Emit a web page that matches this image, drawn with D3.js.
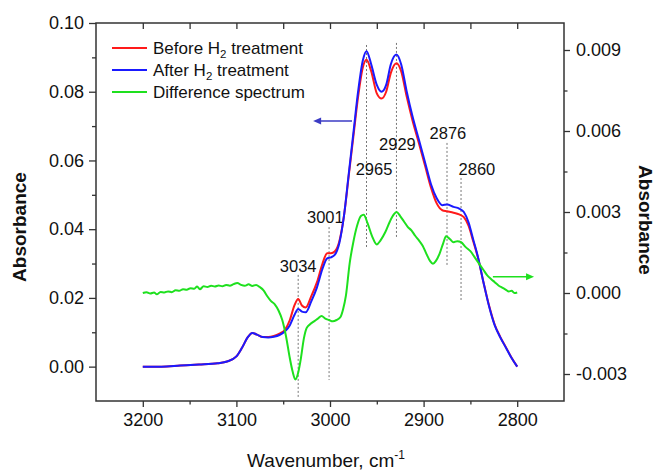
<!DOCTYPE html>
<html>
<head>
<meta charset="utf-8">
<script src="https://d3js.org/d3.v7.min.js"></script>
<style>
  body { margin: 0; background: #fff; }
  text { font-family: Arial, "Liberation Sans", sans-serif; fill: #111; }
</style>
</head>
<body>
<div id="chart"></div>
<script>
// Wavenumber grid for the two absorbance spectra (cm-1)
const wn = [3200, 3180, 3160, 3140, 3120, 3110, 3100, 3094, 3088, 3083, 3078, 3072, 3066, 3060, 3054, 3048,
  3043, 3038, 3034, 3030, 3026, 3020, 3014, 3008, 3003, 2999, 2995, 2990, 2985, 2980, 2975, 2970, 2965,
  2961, 2956, 2950, 2945, 2940, 2935, 2929, 2924, 2918, 2912, 2905, 2898, 2892, 2886, 2880, 2875, 2868,
  2862, 2857, 2852, 2847, 2842, 2836, 2830, 2824, 2818, 2812, 2806, 2800];

const before = [0.0000, 0.0000, 0.0003, 0.0006, 0.0010, 0.0015, 0.0030, 0.0055, 0.0085, 0.0098, 0.0093,
  0.0086, 0.0086, 0.0089, 0.0096, 0.0108, 0.0135, 0.0178, 0.0197, 0.0178, 0.0172, 0.0205, 0.0245, 0.0300,
  0.0330, 0.0330, 0.0335, 0.0365, 0.0440, 0.0555, 0.0670, 0.0785, 0.0870, 0.0893, 0.0860, 0.0795, 0.0780,
  0.0800, 0.0855, 0.0883, 0.0860, 0.0785, 0.0718, 0.0650, 0.0580, 0.0520, 0.0475, 0.0455, 0.0452, 0.0448,
  0.0443, 0.0435, 0.0410, 0.0365, 0.0318, 0.0245, 0.0177, 0.0122, 0.0086, 0.0056, 0.0026, 0.0000];

const after = [0.0000, 0.0000, 0.0003, 0.0006, 0.0010, 0.0015, 0.0030, 0.0055, 0.0085, 0.0098, 0.0093,
  0.0086, 0.0085, 0.0087, 0.0092, 0.0103, 0.0120, 0.0150, 0.0168, 0.0160, 0.0158, 0.0190, 0.0230, 0.0285,
  0.0315, 0.0318, 0.0325, 0.0360, 0.0440, 0.0560, 0.0680, 0.0800, 0.0890, 0.0918, 0.0880, 0.0820, 0.0800,
  0.0820, 0.0880, 0.0908, 0.0880, 0.0800, 0.0730, 0.0660, 0.0590, 0.0530, 0.0490, 0.0470, 0.0472, 0.0465,
  0.0460, 0.0450, 0.0420, 0.0370, 0.0320, 0.0245, 0.0175, 0.0120, 0.0085, 0.0055, 0.0025, 0.0000];

// Difference spectrum (right axis)
const wnDiff = [3200, 3196, 3192, 3188, 3185, 3181, 3177, 3173, 3169, 3165, 3161, 3157, 3153, 3149, 3145,
  3142, 3139, 3135, 3131, 3127, 3123, 3119, 3115, 3111, 3107, 3103, 3099, 3095, 3091, 3087, 3083, 3079,
  3075, 3071, 3067, 3063, 3059, 3055, 3051, 3047, 3043, 3040, 3037, 3034, 3031, 3028, 3025, 3021, 3017,
  3013, 3009, 3005, 3001, 2997, 2993, 2989, 2986, 2983, 2979, 2975, 2971, 2967, 2964, 2960, 2955, 2950,
  2946, 2941, 2936, 2932, 2929, 2925, 2921, 2917, 2913, 2909, 2905, 2901, 2897, 2893, 2890, 2887, 2883,
  2879, 2876, 2872, 2868, 2864, 2860, 2855, 2850, 2845, 2840, 2836, 2832, 2828, 2824, 2820, 2816, 2812,
  2809, 2806, 2803, 2800];

const diff = [0.00000, 0.00003, -0.00002, 0.00002, -0.00005, 0.00004, 0.00002, 0.00006, 0.00003, 0.00010,
  0.00008, 0.00014, 0.00012, 0.00018, 0.00016, 0.00024, 0.00014, 0.00025, 0.00022, 0.00027, 0.00024,
  0.00028, 0.00025, 0.00030, 0.00027, 0.00033, 0.00037, 0.00030, 0.00027, 0.00032, 0.00026, 0.00030,
  0.00022, 0.00010, -0.00012, -0.00030, -0.00042, -0.00065, -0.00100, -0.00160, -0.00240, -0.00290,
  -0.00320, -0.00295, -0.00240, -0.00170, -0.00130, -0.00115, -0.00105, -0.00095, -0.00085, -0.00095,
  -0.00100, -0.00105, -0.00100, -0.00090, -0.00060, -0.00010, 0.00110, 0.00190, 0.00250, 0.00285,
  0.00290, 0.00260, 0.00210, 0.00180, 0.00195, 0.00225, 0.00265, 0.00290, 0.00300, 0.00285, 0.00265,
  0.00245, 0.00232, 0.00212, 0.00195, 0.00175, 0.00145, 0.00118, 0.00108, 0.00118, 0.00145, 0.00185,
  0.00210, 0.00200, 0.00188, 0.00192, 0.00188, 0.00170, 0.00155, 0.00130, 0.00105, 0.00085, 0.00065,
  0.00052, 0.00040, 0.00028, 0.00020, 0.00012, 0.00006, 0.00008, 0.00000, 0.00002];

const xTicks = [3200, 3100, 3000, 2900, 2800];
const leftTicks = [0.00, 0.02, 0.04, 0.06, 0.08, 0.10];
const rightTicks = [-0.003, 0.000, 0.003, 0.006, 0.009];

const seriesNames = ["Before H2 treatment", "After H2 treatment", "Difference spectrum"];
const seriesColors = ["#ff1a1a", "#1a1aff", "#1ee01e"];

// Peak markers: label text and wavenumber of the dotted line
const peakLabels = ["3034", "3001", "2965", "2929", "2876", "2860"];
const peakPos = [3034, 3001, 2961, 2929, 2875, 2860];

const margin = { top: 23, right: 93, bottom: 71, left: 96 },
      W = 657, H = 472,
      width = W - margin.left - margin.right,
      height = H - margin.top - margin.bottom;

const svg = d3.select("#chart").append("svg")
    .attr("width", W).attr("height", H);
const g = svg.append("g").attr("transform", `translate(${margin.left},${margin.top})`);

const x = d3.scaleLinear().domain([3250, 2750]).range([0, width]);
const yL = d3.scaleLinear().domain([-0.01, 0.10]).range([height, 0]);
const yR = d3.scaleLinear().domain([-0.004, 0.010]).range([height, 0]);

// axes
function styleAxis(sel) {
  sel.select(".domain").remove();
  sel.selectAll(".tick line").attr("stroke", "#333").attr("stroke-width", 1.3);
  sel.selectAll(".tick text").style("font-size", "18px").attr("fill", "#111");
}

g.append("g").attr("transform", `translate(0,${height})`)
  .call(d3.axisBottom(x).tickValues(xTicks).tickFormat(d3.format("d")).tickSize(6).tickPadding(6))
  .call(styleAxis);
g.append("g").attr("transform", `translate(0,${height})`)
  .call(d3.axisBottom(x).tickValues([3150, 3050, 2950, 2850]).tickFormat("").tickSize(3.5))
  .call(styleAxis);
g.append("g")
  .call(d3.axisTop(x).tickValues([3200, 3150, 3100, 3050, 3000, 2950, 2900, 2850, 2800]).tickFormat("").tickSize(-6))
  .call(styleAxis);

g.append("g")
  .call(d3.axisLeft(yL).tickValues(leftTicks).tickFormat(d3.format(".2f")).tickSize(7).tickPadding(5))
  .call(styleAxis);
g.append("g")
  .call(d3.axisLeft(yL).tickValues([0.01, 0.03, 0.05, 0.07, 0.09]).tickFormat("").tickSize(4))
  .call(styleAxis);

g.append("g").attr("transform", `translate(${width},0)`)
  .call(d3.axisRight(yR).tickValues(rightTicks).tickFormat(d => d.toFixed(3)).tickSize(6).tickPadding(6))
  .call(styleAxis);
g.append("g").attr("transform", `translate(${width},0)`)
  .call(d3.axisRight(yR).tickValues([-0.0015, 0.0015, 0.0045, 0.0075]).tickFormat("").tickSize(3.5))
  .call(styleAxis);

g.append("rect")
  .attr("width", width).attr("height", height)
  .attr("fill", "none").attr("stroke", "#333").attr("stroke-width", 1.5);

// dotted peak lines
const peakLayout = [
  { top: 0.0267, bot: -0.0088, lx: 3034, ly: 0.0275 },
  { top: 0.0406, bot: -0.0039, lx: 3005, ly: 0.0418 },
  { top: 0.0936, bot: 0.0345, lx: 2953, ly: 0.0558 },
  { top: 0.0942, bot: 0.0377, lx: 2928, ly: 0.0630 },
  { top: 0.0651, bot: 0.0296, lx: 2874, ly: 0.0662 },
  { top: 0.0549, bot: 0.0191, lx: 2843, ly: 0.0558 }
];
peakPos.forEach((p, i) => {
  const l = peakLayout[i];
  g.append("line")
    .attr("x1", x(p)).attr("x2", x(p))
    .attr("y1", yL(l.top)).attr("y2", yL(l.bot))
    .attr("stroke", "#777").attr("stroke-width", 1).attr("stroke-dasharray", "2,2");
  g.append("text")
    .attr("x", x(l.lx)).attr("y", yL(l.ly))
    .attr("text-anchor", "middle").style("font-size", "16.5px")
    .text(peakLabels[i]);
});

// curves
const lineL = d3.line().x(d => x(d[0])).y(d => yL(d[1])).curve(d3.curveMonotoneX);
const lineR = d3.line().x(d => x(d[0])).y(d => yR(d[1])).curve(d3.curveMonotoneX);

g.append("path").datum(d3.zip(wn, before)).attr("d", lineL)
  .attr("fill", "none").attr("stroke", seriesColors[0]).attr("stroke-width", 2);
g.append("path").datum(d3.zip(wn, after)).attr("d", lineL)
  .attr("fill", "none").attr("stroke", seriesColors[1]).attr("stroke-width", 2);
g.append("path").datum(d3.zip(wnDiff, diff)).attr("d", lineR)
  .attr("fill", "none").attr("stroke", seriesColors[2]).attr("stroke-width", 2);

// arrows pointing to the axis each curve belongs to
function arrow(x1, x2, yy, color) {
  const dir = Math.sign(x2 - x1);
  g.append("line").attr("x1", x1).attr("x2", x2 - dir * 6).attr("y1", yy).attr("y2", yy)
    .attr("stroke", color).attr("stroke-width", 1.5);
  g.append("path")
    .attr("d", `M${x2},${yy}L${x2 - dir * 8},${yy - 3.5}L${x2 - dir * 8},${yy + 3.5}Z`)
    .attr("fill", color);
}
arrow(x(2976.5), x(3018), yL(0.0715), "#3b3bc4");
arrow(x(2826), x(2782), yR(0.0006), "#1ee01e");

// legend
const legend = g.append("g");
seriesNames.forEach((name, i) => {
  const ly = 25 + i * 22;
  legend.append("line")
    .attr("x1", 16).attr("x2", 51).attr("y1", ly).attr("y2", ly)
    .attr("stroke", seriesColors[i]).attr("stroke-width", 2);
  const t = legend.append("text").attr("x", 57).attr("y", ly + 6).style("font-size", "17px");
  if (name.includes("H2")) {
    const parts = name.split("H2");
    t.append("tspan").text(parts[0] + "H");
    t.append("tspan").text("2").attr("dy", 4).style("font-size", "11.5px");
    t.append("tspan").text(parts[1]).attr("dy", -4);
  } else {
    t.text(name);
  }
});

// axis titles
svg.append("text")
  .attr("transform", `translate(26,${margin.top + 204}) rotate(-90)`)
  .attr("text-anchor", "middle").style("font-size", "19px").style("font-weight", "bold")
  .text("Absorbance");
svg.append("text")
  .attr("transform", `translate(639,${margin.top + 197}) rotate(90)`)
  .attr("text-anchor", "middle").style("font-size", "19px").style("font-weight", "bold")
  .text("Absorbance");

const xt = svg.append("text")
  .attr("x", margin.left + width / 2 - 4).attr("y", 467)
  .attr("text-anchor", "middle").style("font-size", "19px");
xt.append("tspan").text("Wavenumber, cm");
xt.append("tspan").text("-1").attr("dy", -8).style("font-size", "12px");
</script>
</body>
</html>
